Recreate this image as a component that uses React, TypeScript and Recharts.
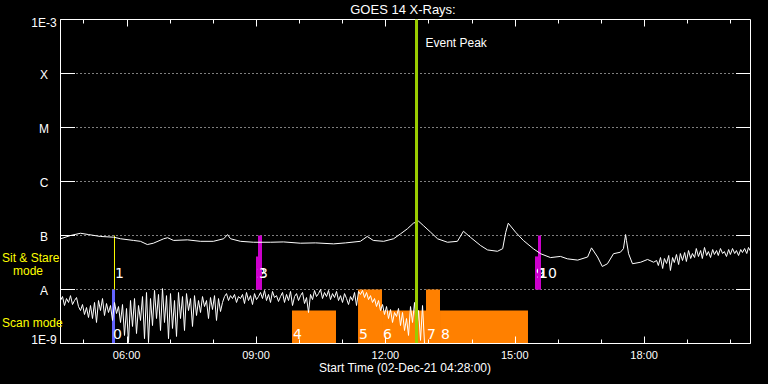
import React from "react";
import {
  ComposedChart,
  Line,
  XAxis,
  YAxis,
  CartesianGrid,
  ReferenceArea,
  ReferenceLine,
} from "recharts";

const FONT = "'Liberation Sans', Arial, sans-serif";

// time axis in decimal hours, 02-Dec-21 04:28 .. 20:28
const T0 = 4.4667;
const T1 = 20.4667;
const hourTicks = [5, 6, 7, 8, 9, 10, 11, 12, 13, 14, 15, 16, 17, 18, 19, 20];
const majorHours = [6, 9, 12, 15, 18];

const fluxTicks = [1e-9, 1e-8, 1e-7, 1e-6, 1e-5, 1e-4, 1e-3];
const fluxLabels = ["1E-9", "A", "B", "C", "M", "X", "1E-3"];

// 1-8 A channel (units of 1e-8 W/m2)
const longTimes = [
  4.47, 4.7, 4.93, 5.12, 5.39, 5.7, 5.86, 6.16, 6.32, 6.48, 6.62, 6.86, 6.95,
  7.09, 7.41, 7.71, 8.01, 8.25, 8.34, 8.41, 8.64, 8.94, 9.34, 9.64, 10.03,
  10.38, 10.8, 11.08, 11.42, 11.58, 11.72, 11.96, 12.19, 12.35, 12.51, 12.65,
  12.77, 12.88, 13.05, 13.21, 13.44, 13.67, 13.81, 13.97, 14.21, 14.37, 14.6,
  14.72, 14.79, 14.85, 15.02, 15.2, 15.43, 15.6, 15.83, 16.06, 16.22, 16.46,
  16.69, 16.78, 16.92, 17.03, 17.15, 17.29, 17.45, 17.52, 17.57, 17.59, 17.64,
  17.73, 17.92, 18.08, 18.22,
  18.29, 18.33, 18.38, 18.43, 18.47, 18.52, 18.57, 18.61, 18.66, 18.7, 18.75,
  18.8, 18.84, 18.89, 18.94, 18.98, 19.03, 19.08, 19.12, 19.17, 19.21, 19.26,
  19.31, 19.35, 19.4, 19.45, 19.49, 19.54, 19.59, 19.63, 19.68, 19.72, 19.77,
  19.82, 19.86, 19.91, 19.96, 20.0, 20.05, 20.1, 20.14, 20.19, 20.24, 20.28,
  20.33, 20.38, 20.42, 20.47,
];
const longFlux = [
  8.7, 10.0, 11.0, 10.4, 9.6, 9.3, 8.7, 8.1, 7.8, 6.8, 7.2, 8.7, 9.1, 8.1, 8.3,
  7.8, 7.8, 8.7, 10.4, 8.7, 7.8, 7.5, 7.5, 7.6, 7.2, 7.3, 7.0, 7.3, 7.8, 9.6,
  8.1, 7.8, 8.7, 10.7, 13.3, 16.9, 18.4, 15.3, 11.5, 8.7, 7.5, 7.8, 12.0, 9.3,
  6.5, 5.4, 5.1, 5.7, 11.4, 16.9, 11.5, 8.1, 5.7, 4.6, 3.9, 4.1, 3.7, 3.5, 4.0,
  5.9, 4.0, 2.67, 3.0, 4.6, 4.9, 5.7, 10.4, 8.1, 4.6, 3.0, 3.2, 3.6, 3.2,
  3.44, 2.78, 3.91, 2.45, 3.75, 3.03, 4.26, 2.25, 3.91, 3.16, 4.45, 2.9, 4.64,
  3.44, 4.84, 3.3, 5.27, 3.75, 4.64, 3.91, 5.74, 4.08, 5.27, 3.75, 6.0, 4.26,
  5.05, 3.91, 5.5, 4.45, 5.27, 4.26, 5.74, 4.64, 5.05, 4.08, 5.5, 4.45, 5.74,
  4.64, 5.27, 4.26, 5.5, 4.84, 5.74, 4.64, 6.0, 5.05,
];

// 0.5-4 A channel (units of 1e-9 W/m2), samples every 2.78 min from 04:28
const shortCadence = 0.04638;
const shortFlux = [
  6.25, 7.4, 5.05, 6.8, 5.75, 7.7, 5.27, 6.25, 7.1, 4.84,
  4.08, 5.27, 3.44, 4.64, 3.03, 5.05, 2.9, 5.75, 2.45, 6.25,
  4.08, 6.8, 3.3, 5.5, 3.75, 5.05, 2.67, 5.75, 3.59, 4.84,
  2.45, 5.27, 1.41, 4.45, 1.04, 6.25, 2.07, 6.8, 1.53, 5.05,
  2.67, 7.4, 1.23, 8.8, 1.04, 6.8, 2.15, 9.6, 2.9, 8.1,
  1.74, 10.4, 2.45, 7.7, 1.23, 8.4, 1.9, 6.25, 1.35, 8.8,
  2.9, 7.4, 1.74, 8.4, 4.08, 6.8, 2.07, 7.7, 3.3, 6.25,
  3.75, 7.4, 4.84, 6.25, 2.9, 7.1, 4.26, 7.7, 2.67, 6.8,
  3.91, 5.75, 7.4, 8.4, 6.25, 7.7, 6.8, 8.1, 5.75, 7.4,
  6.8, 8.1, 5.5, 8.8, 6.25, 7.7, 5.27, 8.4, 6.5, 7.4,
  8.8, 6.8, 9.6, 6.25, 8.1, 5.75, 9.2, 7.1, 7.7, 6.0,
  7.4, 8.8, 5.75, 8.1, 6.25, 9.2, 5.05, 7.4, 8.4, 6.25,
  7.7, 8.8, 5.5, 7.1, 3.75, 8.1, 6.5, 9.6, 7.4, 8.4,
  10.0, 6.8, 8.8, 7.4, 9.6, 6.5, 8.4, 7.1, 9.2, 6.25,
  7.7, 5.75, 8.4, 6.8, 5.27, 7.4, 6.25, 8.8, 5.05, 9.2,
  8.1, 9.6, 7.1, 8.8, 6.5, 7.7, 5.75, 6.8, 4.84, 6.25,
  4.08, 5.27, 3.44, 4.84, 2.9, 4.26, 2.45, 3.75, 3.16, 4.45,
  2.15, 3.75, 1.74, 2.9, 1.41, 4.84, 2.45, 5.75, 1.6, 4.08,
  1.14, 5.05, 1.0,
];

// observation events
const eventIds = ["0", "1", "2", "3", "4", "5", "6", "7", "8", "9", "10"];
const eventStart = [5.661, 5.707, 9.0, 9.046, 9.835, 11.366, 11.922, 12.942, 13.267, 15.47, 15.539];
const eventEnd = [5.73, 5.73, 9.139, 9.139, 10.855, 11.922, 12.942, 13.267, 15.307, 15.609, 15.609];
const eventBase = [1e-9, 1e-8, 1e-8, 1e-8, 1e-9, 1e-9, 1e-9, 1e-9, 1e-9, 1e-8, 1e-8];
const eventTop = [1e-8, 1e-7, 4.1e-8, 1e-7, 4.1e-9, 1e-8, 4.1e-9, 1e-8, 4.1e-9, 4.1e-8, 1e-7];
const eventColor = [
  "#6464ff", "#ffff00", "#cc00cc", "#cc00cc", "#ff8000", "#ff8000",
  "#ff8000", "#ff8000", "#ff8000", "#cc00cc", "#cc00cc",
];
const peakTime = 12.722;

const longData = longTimes.map((t, i) => ({ t, f: longFlux[i] * 1e-8 }));
const shortData = shortFlux.map((v, i) => ({ t: T0 + i * shortCadence, f: v * 1e-9 }));

const hourLabel = (h: number) => String(h).padStart(2, "0") + ":00";

function XTick(props: any) {
  const { x, payload } = props;
  const h = payload.value;
  const major = majorHours.includes(h);
  const len = major ? 7 : 4;
  const px = Math.round(x) + 0.5;
  return (
    <g>
      <line x1={px} x2={px} y1={343.5} y2={343.5 - len} stroke="#fff" />
      <line x1={px} x2={px} y1={19.5} y2={19.5 + len} stroke="#fff" />
      {major && (
        <text x={x} y={358.5} textAnchor="middle" fill="#fff" fontSize={11} fontFamily={FONT}>
          {hourLabel(h)}
        </text>
      )}
    </g>
  );
}

function YTick(props: any) {
  const { y, payload, index } = props;
  const v = payload.value;
  const i = fluxTicks.indexOf(v) >= 0 ? fluxTicks.indexOf(v) : index;
  const inner = i > 0 && i < fluxTicks.length - 1;
  const base = i === 0 ? y : i === fluxTicks.length - 1 ? y + 7.5 : y + 5.3;
  return (
    <g>
      <text x={44} y={base} textAnchor="middle" fill="#fff" fontSize={12} fontFamily={FONT}>
        {fluxLabels[i]}
      </text>
      {inner && <line x1={60.5} x2={75} y1={y} y2={y} stroke="#fff" />}
      {inner && <line x1={736} x2={750.5} y1={y} y2={y} stroke="#fff" />}
    </g>
  );
}

const eventLabel = (text: string, gap: number) => (p: any) => {
  const vb = p.viewBox;
  if (!vb) return null;
  return (
    <text
      x={vb.x + 1}
      y={vb.y + vb.height - gap}
      fill="#fff"
      fontSize={14}
      fontFamily="'DejaVu Sans', sans-serif"
    >
      {text}
    </text>
  );
};

const peakLabel = (p: any) => {
  const vb = p.viewBox;
  if (!vb) return null;
  return (
    <text x={vb.x + 9} y={vb.y + 27.5} fill="#fff" fontSize={12} fontFamily={FONT}>
      Event Peak
    </text>
  );
};

export default function App() {
  return (
    <div
      style={{
        position: "absolute",
        left: 0,
        top: 0,
        width: 768,
        height: 384,
        background: "#000",
      }}
    >
      <ComposedChart
        width={768}
        height={384}
        margin={{ top: 19.5, right: 17.5, bottom: 0, left: 0 }}
      >
        <CartesianGrid vertical={false} stroke="#fff" strokeDasharray="1 3" />
        <XAxis
          type="number"
          dataKey="t"
          domain={[T0, T1]}
          ticks={hourTicks}
          interval={0}
          allowDataOverflow
          height={40.5}
          axisLine={{ stroke: "#fff" }}
          tickLine={false}
          tick={(p: any) => <XTick {...p} />}
        />
        <YAxis
          type="number"
          scale="log"
          domain={[1e-9, 1e-3]}
          ticks={fluxTicks}
          interval={0}
          allowDataOverflow
          width={60.5}
          axisLine={{ stroke: "#fff" }}
          tickLine={false}
          tick={(p: any) => <YTick {...p} />}
        />
        <ReferenceArea
          x1={T0}
          x2={T1}
          y1={1e-9}
          y2={1e-3}
          fill="none"
          stroke="#fff"
          strokeWidth={1}
        />
        {eventIds.map((id, i) => (
          <ReferenceArea
            key={id}
            x1={eventStart[i]}
            x2={eventEnd[i]}
            y1={eventBase[i]}
            y2={eventTop[i]}
            fill={eventColor[i]}
            fillOpacity={1}
            stroke="none"
            label={eventLabel(id, eventBase[i] < 5e-9 ? 4.5 : 11.5)}
          />
        ))}
        <Line
          data={shortData}
          dataKey="f"
          type="linear"
          stroke="#fff"
          strokeWidth={1}
          dot={false}
          isAnimationActive={false}
        />
        <Line
          data={longData}
          dataKey="f"
          type="linear"
          stroke="#fff"
          strokeWidth={1}
          dot={false}
          isAnimationActive={false}
        />
        <ReferenceLine
          x={peakTime}
          stroke="#9acd00"
          strokeWidth={3}
          label={peakLabel}
        />
      </ComposedChart>
      <svg
        width={768}
        height={384}
        style={{ position: "absolute", left: 0, top: 0, pointerEvents: "none" }}
      >
        <text x={403} y={13.5} textAnchor="middle" fill="#fff" fontSize={13} fontFamily={FONT}>
          GOES 14 X-Rays:
        </text>
        <text x={405} y={371.5} textAnchor="middle" fill="#fff" fontSize={12} fontFamily={FONT}>
          Start Time (02-Dec-21 04:28:00)
        </text>
        <text x={2} y={262} fill="#ffff00" fontSize={12} fontFamily={FONT}>
          Sit &amp; Stare
        </text>
        <text x={13} y={275} fill="#ffff00" fontSize={12} fontFamily={FONT}>
          mode
        </text>
        <text x={2} y={327} fill="#ffff00" fontSize={12} fontFamily={FONT}>
          Scan mode
        </text>
      </svg>
    </div>
  );
}
